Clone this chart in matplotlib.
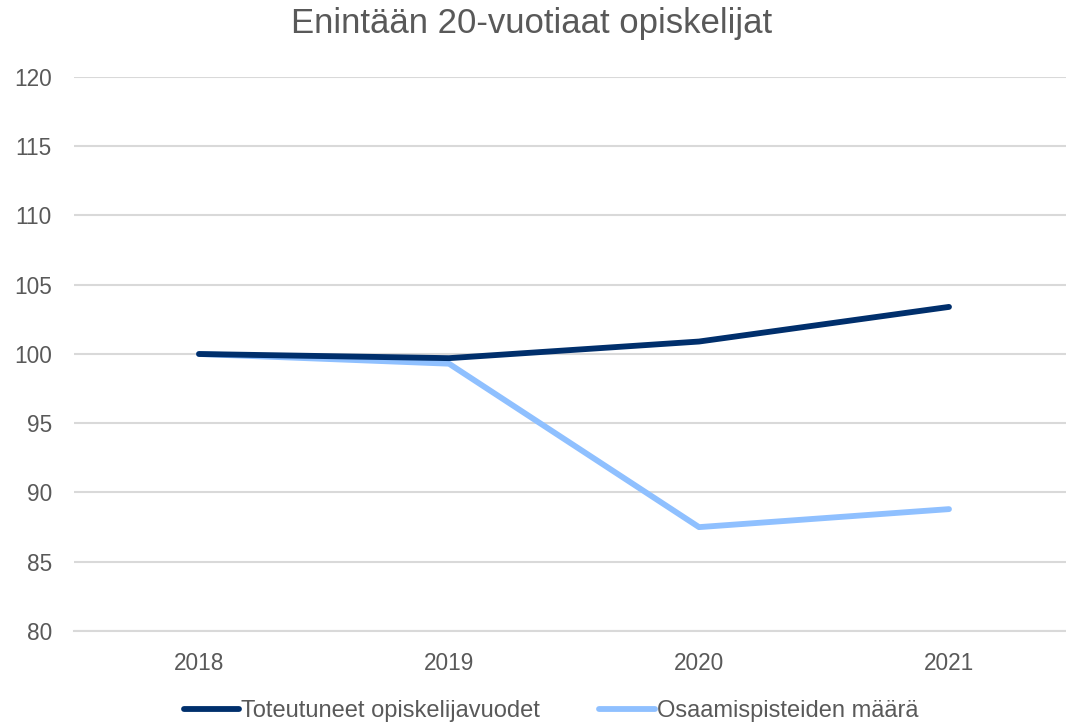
import matplotlib
matplotlib.use("Agg")
import matplotlib.pyplot as plt

# ===== Data =====
years = ["2018", "2019", "2020", "2021"]
opiskelijavuodet = [100.0, 99.7, 100.9, 103.4]
osaamispisteet = [100.0, 99.3, 87.5, 88.8]
y_ticks = [80, 85, 90, 95, 100, 105, 110, 115, 120]

plt.rcParams["font.family"] = ["Liberation Sans", "DejaVu Sans"]
text_color = "#595959"

# ===== Plot =====
fig = plt.figure(figsize=(10.66, 7.25), dpi=100)
ax = fig.add_axes([74 / 1066, 1 - 631 / 725, 1000 / 1066, 554 / 725])

x = range(len(years))
ax.plot(x, opiskelijavuodet, color="#002F6C", linewidth=4.2,
        solid_capstyle="round", label="Toteutuneet opiskelijavuodet", zorder=3)
ax.plot(x, osaamispisteet, color="#8FC0FF", linewidth=4.2,
        solid_capstyle="round", label="Osaamispisteiden määrä", zorder=2)

ax.set_xlim(-0.5, 3.5)
ax.set_ylim(80, 120)
ax.set_yticks(y_ticks)
ax.set_xticks(list(x))
ax.set_xticklabels(years)
ax.tick_params(axis="both", length=0, labelsize=16.3, colors=text_color)
ax.tick_params(axis="y", pad=16)
ax.tick_params(axis="x", pad=15)

ax.grid(axis="y", color="#D9D9D9", linewidth=1.5)
ax.set_axisbelow(True)
for side in ["top", "right", "left"]:
    ax.spines[side].set_visible(False)
ax.spines["bottom"].set_color("#D9D9D9")
ax.spines["bottom"].set_linewidth(1.5)

fig.text(532 / 1066, 1 - 24 / 725, "Enintään 20-vuotiaat opiskelijat",
         ha="center", va="center", fontsize=25, color=text_color)

fig.legend(loc="center", bbox_to_anchor=(551 / 1066, 1 - 711 / 725), ncol=2,
           frameon=False, fontsize=17, labelcolor=text_color,
           handlelength=2.35, handletextpad=0.08, columnspacing=2.5)

plt.savefig("out.png", dpi=100)
